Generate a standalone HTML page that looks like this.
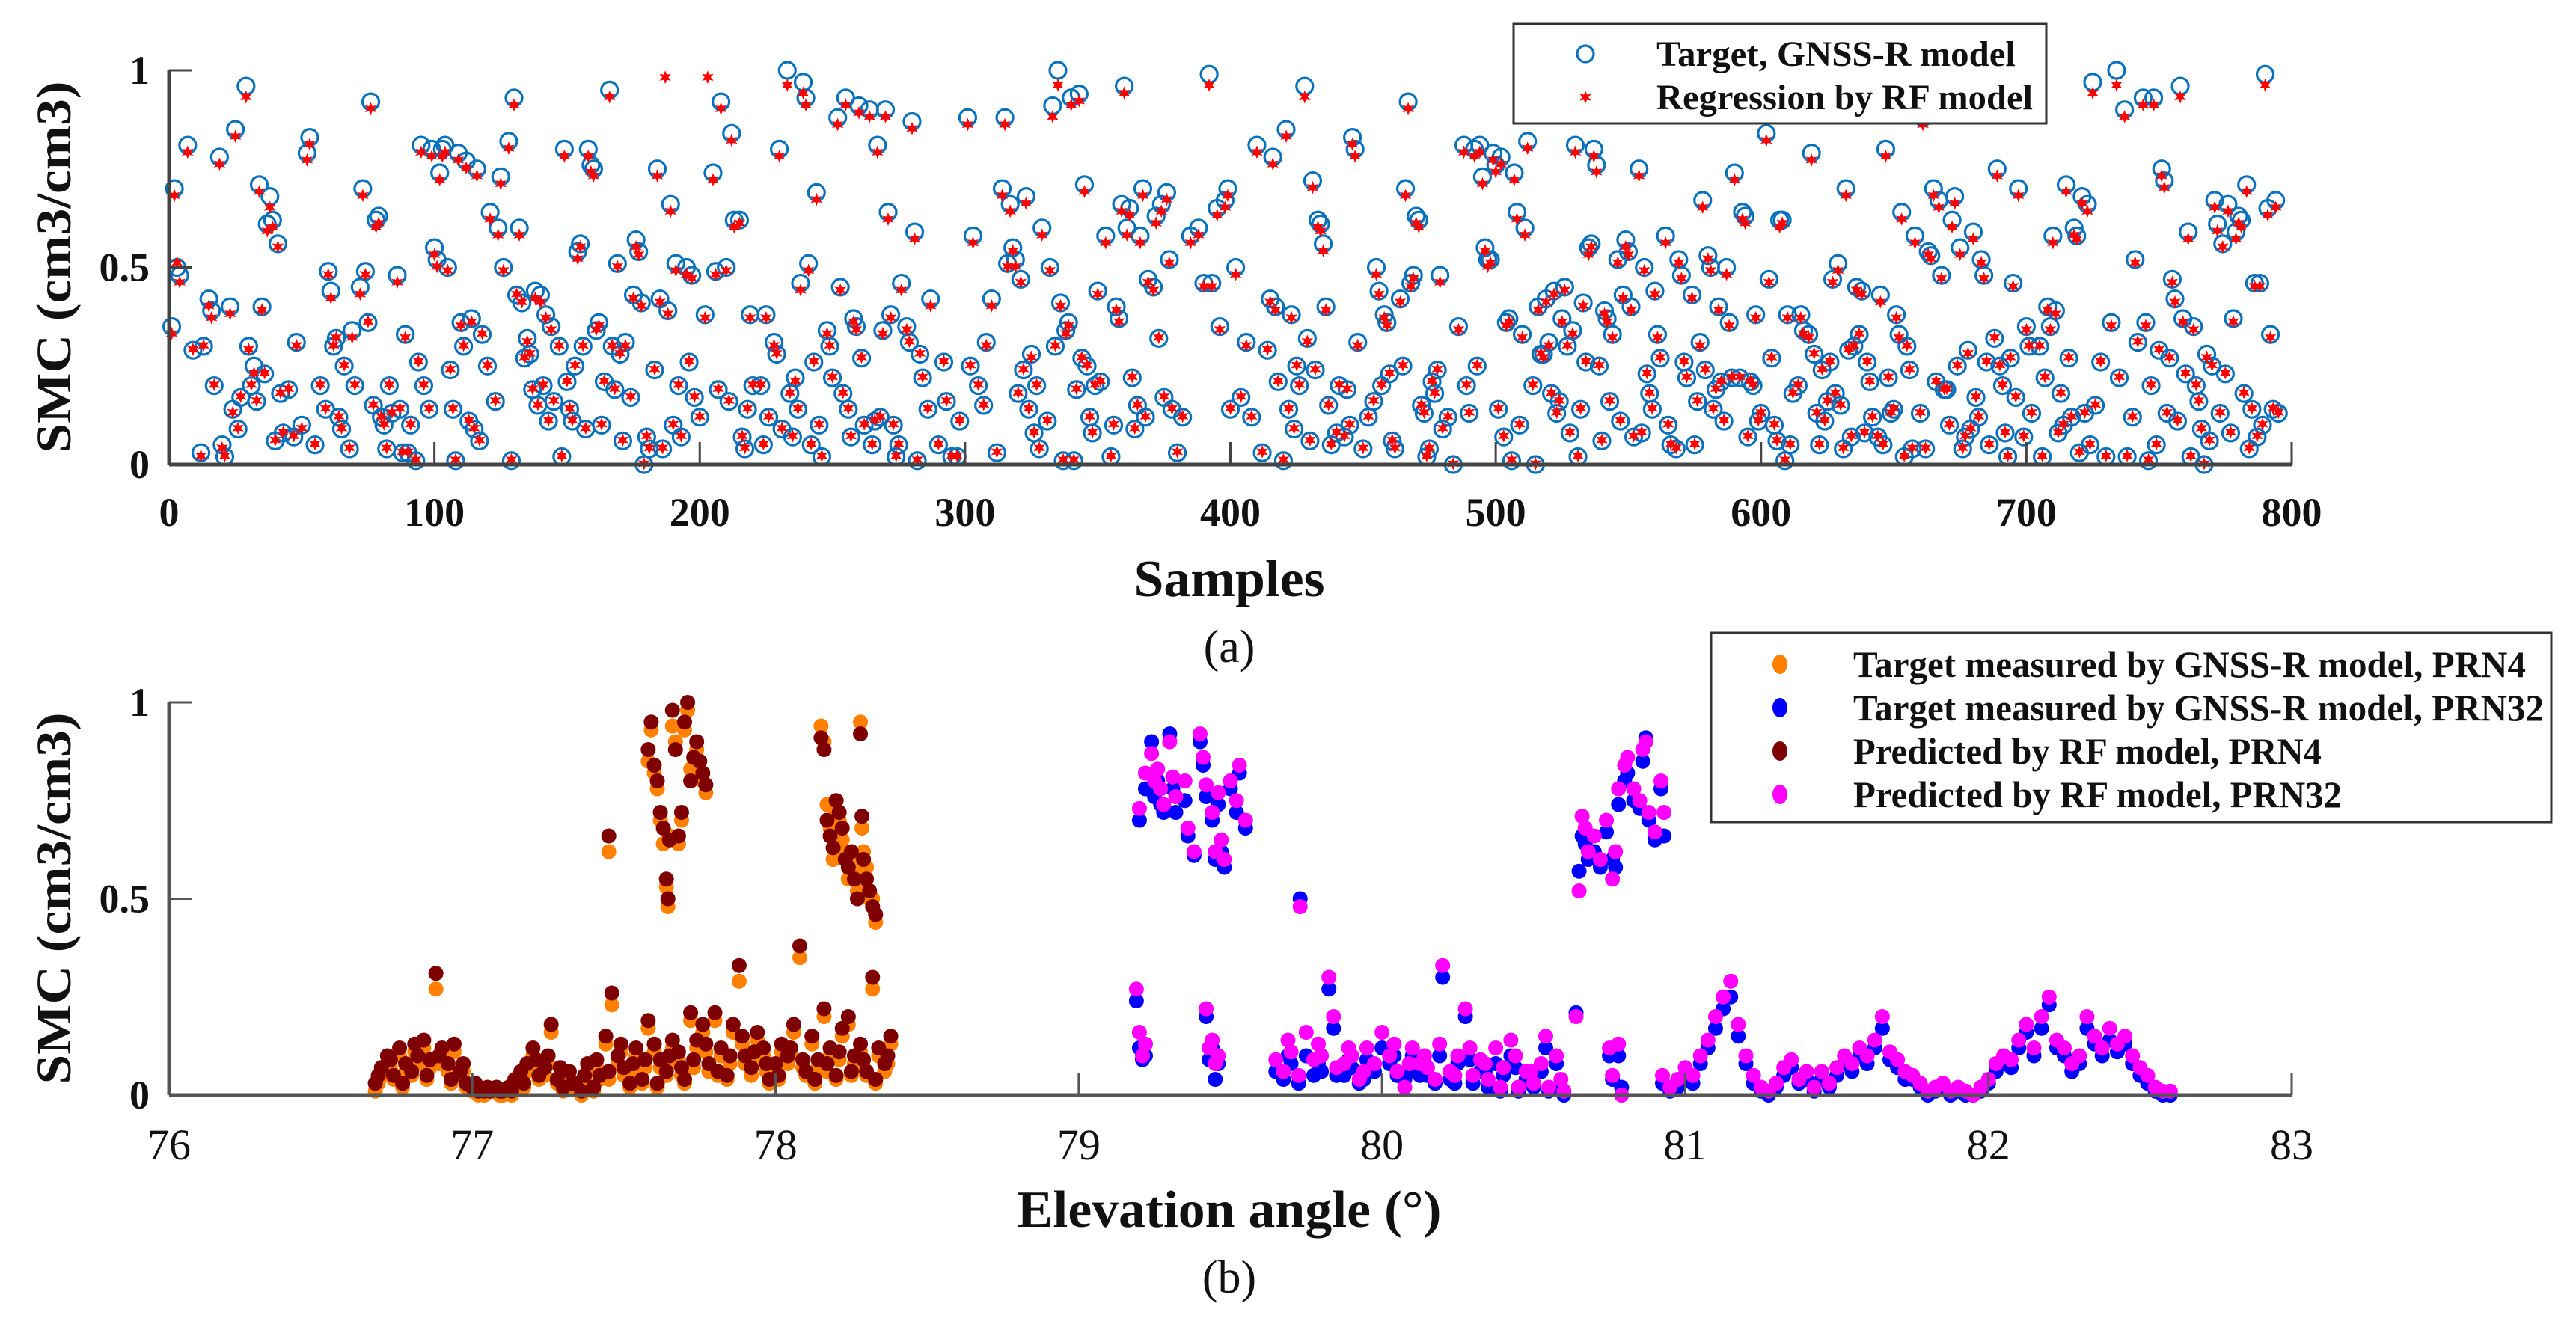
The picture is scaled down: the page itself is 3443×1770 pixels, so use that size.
<!DOCTYPE html>
<html><head><meta charset="utf-8"><title>SMC regression charts</title>
<style>html,body{margin:0;padding:0;background:#fff;}svg{display:block;}</style></head>
<body>
<svg id="fig" xmlns="http://www.w3.org/2000/svg" width="3443" height="1770" viewBox="0 0 3443 1770" font-family="'Liberation Serif', serif">
<rect x="0" y="0" width="3443" height="1770" fill="#fff"/>
<g id="plotA"></g>
<g id="plotB"></g>
</svg>
<script>
// ---------- Chart (a) data ----------
const topSamples = [1,2,3,4,7,9,12,13,15,16,17,19,20,21,23,24,25,26,27,29,30,31,32,33,34,35,36,37,38,39,40,41,42,43,45,47,48,50,52,53,55,57,59,60,61,62,63,64,65,66,68,69,70,72,73,74,75,76,77,78,79,80,81,82,83,84,86,87,88,89,90,91,93,94,95,96,98,99,100,101,102,103,104,105,106,107,108,109,110,111,112,113,114,115,116,117,118,120,121,123,124,125,126,128,129,130,131,132,133,134,135,136,137,138,139,140,141,142,143,144,145,147,148,149,150,151,152,153,154,155,156,157,158,159,160,161,162,163,164,166,167,168,169,170,171,172,174,175,176,177,178,179,180,181,183,184,185,186,187,188,189,190,191,192,193,195,196,197,198,200,202,203,205,206,207,208,210,211,212,213,215,216,217,218,219,220,223,224,225,226,228,229,230,231,233,234,235,236,237,238,239,240,241,242,243,244,245,246,248,249,250,252,253,254,255,256,257,258,259,260,261,262,264,265,266,267,268,269,270,271,272,273,274,275,276,278,279,280,281,282,283,284,286,287,290,292,293,295,297,298,301,302,303,305,307,308,310,312,314,315,316,317,318,319,320,321,322,323,324,325,326,327,328,329,331,332,333,334,335,336,337,338,339,340,341,342,343,344,345,346,347,348,349,350,351,353,355,356,357,358,359,360,361,362,363,364,365,366,367,368,369,371,372,373,374,375,376,377,378,380,382,385,388,390,392,393,395,396,398,399,400,402,404,406,408,410,412,414,415,416,417,418,420,421,422,423,424,425,426,428,429,430,431,432,433,434,435,436,437,438,440,441,443,444,445,446,447,448,450,452,454,455,456,457,458,459,460,461,462,464,465,466,467,468,469,470,471,472,473,474,475,476,477,478,479,480,482,484,486,488,489,490,492,493,494,495,496,497,498,499,500,501,502,503,504,505,506,507,508,509,510,511,512,514,515,516,517,518,519,520,521,522,523,524,525,526,527,528,529,530,531,532,533,534,535,536,537,538,539,540,541,542,543,544,546,547,548,549,550,551,552,554,555,556,557,558,559,560,561,562,564,565,566,568,569,570,571,572,574,575,576,577,578,579,580,581,582,583,584,585,586,587,588,589,590,592,593,594,595,596,597,598,599,600,602,603,604,605,606,607,608,609,610,611,612,614,615,616,618,619,620,621,622,623,624,625,626,627,628,629,630,631,632,633,634,635,636,637,638,639,640,641,642,644,645,646,647,648,649,650,651,652,653,654,655,656,657,658,660,661,662,663,664,665,666,667,668,669,670,671,672,673,674,675,676,677,678,679,680,681,682,683,684,685,686,687,688,689,690,691,692,693,694,695,696,697,698,699,700,701,702,703,704,705,706,707,708,709,710,711,712,713,714,715,716,717,718,719,720,721,722,723,724,725,726,728,730,732,734,735,737,738,740,741,742,744,745,746,747,748,749,750,751,752,753,754,755,756,757,758,759,760,761,762,763,764,765,766,767,768,769,770,771,772,773,774,775,776,777,778,779,780,781,782,783,784,785,786,787,788,789,790,791,792,793,794,795];
const topTarget = [.35,.70,.50,.48,.81,.29,.03,.30,.42,.39,.20,.78,.05,.02,.40,.14,.85,.09,.17,.96,.30,.20,.25,.16,.71,.40,.23,.61,.68,.62,.06,.56,.18,.08,.19,.07,.31,.10,.79,.83,.05,.20,.14,.49,.44,.30,.32,.12,.09,.25,.04,.34,.20,.45,.70,.49,.36,.92,.15,.62,.63,.12,.10,.04,.20,.13,.48,.14,.03,.33,.03,.10,.01,.26,.81,.20,.14,.80,.55,.52,.74,.80,.81,.50,.24,.14,.01,.79,.36,.30,.77,.11,.37,.09,.75,.06,.33,.25,.64,.16,.60,.73,.50,.82,.01,.93,.43,.60,.41,.27,.32,.28,.19,.44,.15,.43,.20,.38,.11,.35,.16,.30,.02,.80,.21,.14,.11,.25,.54,.56,.30,.09,.80,.76,.75,.34,.36,.10,.21,.95,.30,.19,.51,.28,.06,.31,.17,.43,.57,.54,.41,.00,.07,.04,.24,.75,.42,.04,null,.39,.66,.10,.51,.20,.07,.50,.26,.48,.17,.12,.38,null,.74,.49,.19,.92,.50,.16,.84,.62,.62,.07,.04,.14,.38,.20,.20,.05,.38,.12,.31,.28,.80,.09,1.0,.18,.07,.22,.14,.46,.97,.93,.51,.05,.26,.69,.10,.02,.34,.30,.22,.88,.45,.18,.93,.14,.07,.37,.35,.91,.27,.10,.90,.05,.11,.81,.12,.34,.90,.64,.38,.10,.02,.05,.46,.35,.31,.87,.59,.01,.28,.22,.14,.42,.05,.26,.16,.02,.02,.11,.88,.25,.58,.20,.15,.31,.42,.03,.70,.88,.51,.66,.55,.52,.18,.47,.24,.68,.14,.28,.08,.20,.04,.60,.11,.50,.91,.30,1.0,.41,.01,.34,.36,.93,.01,.19,.94,.27,.71,.25,.12,.08,.20,.44,.21,.58,.02,.10,.40,.37,.66,.96,.60,.65,.22,.09,.15,.58,.70,.12,.47,.45,.63,.32,.66,.17,.69,.52,.14,.03,.12,.58,.60,.46,.99,.46,.65,.35,.67,.70,.14,.50,.17,.31,.12,.81,.03,.29,.42,.78,.40,.21,.01,.85,.14,.38,.09,.25,.20,.96,.32,.06,.72,.24,.62,.61,.56,.40,.15,.05,.08,.20,.07,.19,.10,.83,.80,.31,.04,.12,.16,.50,.44,.20,.38,.36,.23,.06,.04,.42,.25,.70,.92,.46,.48,.63,.62,.15,.13,.02,.04,.21,.18,.24,.48,.09,.12,.00,.35,.81,.20,.13,.80,.25,.81,.73,.55,.52,.52,.79,.76,.14,.78,.07,.36,.37,.01,.74,.64,.10,.33,.60,.82,.20,.00,.40,.28,.28,.42,.31,.18,.44,.13,.16,.37,.45,.30,.08,.34,.81,.02,.14,.41,.26,.55,.56,.80,.76,.25,.06,.39,.37,.16,.33,.52,.11,.43,.57,.54,.40,.07,.75,.08,.50,.23,.18,.14,.44,.33,.27,.58,.10,.05,.04,.52,.48,.26,.22,.43,.05,.16,.31,.67,.24,.53,.50,.14,.19,.40,.21,.11,.50,.36,.22,.74,.22,.64,.63,.07,.21,.20,.38,.11,.13,.84,.47,.27,.10,.06,.62,.62,.01,.38,.05,.18,.20,.38,.34,.33,.79,.28,.13,.05,.24,.11,.16,.26,.47,.18,.51,.15,.04,.70,.29,.07,.30,.45,.33,.44,.08,.26,.21,.12,.07,.43,.05,.80,.22,.13,.14,.38,.33,.64,.02,.30,.24,.04,.58,.13,.88,.04,.54,.53,.70,.21,.67,.48,.19,.19,.10,.62,.68,.25,.55,.04,.07,.29,.09,.59,.17,.12,.52,.48,.26,.05,.94,.32,.75,.25,.20,.08,.02,.27,.46,.17,.70,.90,.07,.35,.30,.13,.93,.94,.30,.02,.22,.40,.35,.58,.39,.08,.18,.10,.71,.27,.12,.60,.58,.03,.68,.13,.66,.05,.97,.15,.26,.02,.36,1.0,.22,.90,.02,.12,.52,.31,.93,.36,.01,.20,.93,.05,.29,.75,.72,.13,.27,.47,.42,.11,.96,.37,.23,.59,.02,.35,.20,.16,.09,.00,.28,.06,.25,.67,.61,.13,.56,.23,.66,.08,.37,.59,.63,.62,.18,.71,.04,.14,.46,.07,.46,.10,.99,.65,.33,.14,.67,.13];
const topPred = [.34,.69,.52,.47,.80,.30,.03,.31,.41,.38,.21,.77,.05,.03,.39,.14,.84,.10,.18,.94,.30,.21,.24,.17,.70,.40,.24,.60,.66,.61,.07,.56,.19,.09,.20,.08,.31,.10,.78,.82,.06,.21,.15,.49,.43,.31,.33,.13,.10,.26,.05,.33,.21,.44,.69,.49,.37,.91,.16,.61,.62,.13,.11,.05,.21,.14,.47,.15,.04,.33,.04,.11,.02,.27,.80,.21,.15,.79,.54,.51,.73,.79,.80,.50,.25,.15,.02,.78,.36,.31,.76,.12,.37,.10,.74,.07,.34,.26,.63,.17,.59,.72,.50,.81,.02,.92,.44,.59,.42,.28,.32,.29,.20,.43,.16,.42,.21,.38,.12,.35,.17,.31,.03,.79,.22,.15,.12,.26,.53,.56,.31,.10,.79,.75,.74,.35,.36,.11,.22,.94,.31,.20,.51,.29,.07,.31,.18,.43,.56,.54,.41,.01,.08,.05,.25,.74,.42,.05,.99,.39,.65,.11,.50,.21,.08,.49,.27,.48,.18,.13,.38,.99,.73,.49,.20,.91,.50,.17,.83,.61,.62,.08,.05,.15,.38,.21,.21,.06,.38,.13,.31,.29,.79,.10,.97,.19,.08,.22,.15,.45,.95,.92,.50,.06,.27,.68,.11,.03,.34,.31,.23,.87,.45,.19,.92,.15,.08,.37,.35,.90,.28,.11,.89,.06,.12,.80,.13,.34,.89,.63,.38,.11,.03,.06,.45,.35,.32,.86,.58,.02,.29,.23,.15,.41,.06,.27,.17,.03,.03,.12,.87,.26,.57,.21,.16,.31,.41,.04,.69,.87,.51,.65,.55,.51,.19,.47,.25,.67,.15,.28,.09,.21,.05,.59,.12,.50,.89,.31,.97,.41,.02,.34,.36,.92,.02,.20,.93,.28,.70,.26,.13,.09,.21,.44,.22,.57,.03,.11,.40,.37,.65,.95,.59,.64,.23,.10,.16,.57,.69,.13,.47,.45,.62,.33,.65,.18,.68,.52,.15,.04,.13,.57,.59,.46,.97,.46,.64,.35,.66,.69,.15,.49,.18,.31,.13,.80,.04,.30,.42,.77,.40,.22,.02,.84,.15,.38,.10,.26,.21,.94,.32,.07,.71,.25,.61,.60,.55,.40,.16,.06,.09,.21,.08,.20,.11,.82,.79,.31,.05,.13,.17,.49,.44,.21,.38,.36,.24,.07,.05,.42,.26,.69,.91,.46,.48,.62,.61,.16,.14,.03,.05,.22,.19,.25,.47,.10,.13,.01,.35,.80,.21,.14,.79,.26,.80,.72,.55,.51,.52,.78,.75,.15,.77,.08,.36,.37,.02,.73,.63,.11,.33,.59,.81,.21,.01,.40,.29,.28,.42,.31,.19,.44,.14,.17,.37,.45,.31,.09,.34,.80,.03,.15,.41,.27,.54,.56,.79,.75,.26,.07,.39,.37,.17,.33,.52,.12,.43,.56,.54,.40,.08,.74,.09,.50,.24,.19,.15,.44,.33,.28,.57,.11,.06,.05,.52,.48,.27,.23,.43,.06,.17,.31,.66,.25,.53,.50,.15,.20,.40,.22,.12,.49,.36,.23,.73,.23,.63,.62,.08,.22,.21,.38,.12,.14,.83,.47,.28,.11,.07,.61,.62,.02,.38,.06,.19,.21,.38,.34,.33,.78,.29,.14,.06,.25,.12,.17,.27,.47,.19,.50,.16,.05,.69,.30,.08,.31,.45,.34,.44,.09,.27,.22,.13,.08,.42,.06,.79,.23,.14,.15,.38,.33,.63,.03,.31,.25,.05,.57,.14,.87,.05,.54,.53,.69,.22,.66,.48,.20,.20,.11,.61,.67,.26,.54,.05,.08,.29,.10,.58,.18,.13,.52,.48,.27,.06,.92,.33,.74,.26,.21,.09,.03,.28,.46,.18,.69,.89,.08,.35,.31,.14,.92,.93,.31,.03,.23,.40,.35,.57,.39,.09,.19,.11,.70,.28,.13,.59,.58,.04,.67,.14,.65,.06,.95,.16,.27,.03,.36,.97,.23,.89,.03,.13,.52,.32,.92,.36,.02,.21,.92,.06,.30,.74,.71,.14,.28,.47,.42,.12,.94,.37,.24,.58,.03,.35,.21,.17,.10,.01,.28,.07,.26,.66,.60,.14,.56,.24,.65,.09,.37,.58,.62,.61,.19,.70,.05,.15,.46,.08,.46,.11,.97,.64,.33,.15,.66,.14];
const topXTicks = [0,100,200,300,400,500,600,700,800];
const topYTicks = [0,0.5,1];

// ---------- Chart (b) data ----------
const elev4 = [76.68,76.70,76.72,76.74,76.76,76.78,76.80,76.82,76.84,76.86,76.88,76.90,76.92,76.94,76.96,76.98,77.00,77.02,77.04,77.06,77.08,77.10,77.12,77.14,77.16,77.18,77.20,77.22,77.24,77.26,77.28,77.30,77.32,77.34,77.36,77.38,77.40,77.42,77.44,77.46,77.48,77.50,77.52,77.54,77.56,77.58,77.60,77.62,77.64,77.66,77.68,77.70,77.72,77.74,77.76,77.78,77.80,77.82,77.84,77.86,77.88,77.90,77.92,77.94,77.96,77.98,78.00,78.02,78.04,78.06,78.08,78.10,78.12,78.14,78.16,78.18,78.20,78.22,78.24,78.26,78.28,78.30,78.32,78.34,78.36,78.38,
76.69,76.73,76.77,76.81,76.85,76.89,76.93,76.97,77.01,77.05,77.09,77.13,77.17,77.21,77.25,77.29,77.33,77.37,77.41,77.45,77.49,77.53,77.57,77.61,77.65,77.69,77.73,77.77,77.81,77.85,77.89,77.93,77.97,78.01,78.05,78.09,78.13,78.17,78.21,78.25,78.29,78.33,78.37,
77.45,77.58,77.59,77.60,77.61,77.62,77.63,77.64,77.645,77.65,77.66,77.67,77.68,77.69,77.70,77.71,77.72,77.73,77.74,77.75,77.76,77.77,78.15,78.16,78.17,78.18,78.19,78.20,78.21,78.22,78.23,78.24,78.25,78.26,78.27,78.28,78.285,78.29,78.30,78.31,78.32,78.33];
const pred4 = [.03,.07,.10,.05,.12,.08,.06,.10,.14,.09,.31,.12,.08,.13,.06,.03,.02,.01,.01,.01,.02,.01,.02,.04,.06,.08,.12,.05,.07,.18,.04,.02,.06,.03,.01,.08,.02,.05,.15,.26,.10,.07,.03,.12,.04,.19,.13,.09,.06,.14,.11,.04,.21,.14,.18,.08,.21,.12,.05,.18,.33,.10,.07,.16,.12,.04,.08,.13,.10,.18,.38,.06,.15,.09,.22,.12,.05,.17,.20,.10,.13,.06,.30,.12,.08,.15,
.05,.09,.03,.13,.05,.10,.04,.08,.03,.02,.01,.01,.03,.09,.10,.07,.03,.05,.09,.06,.13,.08,.09,.03,.10,.07,.09,.13,.06,.10,.15,.11,.08,.05,.12,.09,.04,.08,.11,.06,.09,.04,.10,
.66,.88,.95,.84,.80,.72,.68,.55,.50,.65,.98,.88,.66,.72,.95,1.0,.80,.86,.90,.85,.82,.79,.91,.88,.70,.66,.63,.75,.72,.68,.60,.58,.62,.55,.50,.92,.71,.60,.55,.52,.48,.46];
const tgt4 = [.01,.05,.08,.04,.10,.06,.05,.08,.12,.07,.27,.10,.06,.11,.05,.02,.01,.00,.00,.01,.01,.00,.01,.03,.05,.06,.10,.04,.05,.16,.03,.01,.04,.02,.00,.06,.01,.04,.13,.23,.08,.05,.02,.10,.03,.17,.11,.07,.05,.12,.09,.03,.19,.12,.16,.06,.19,.10,.04,.16,.29,.08,.05,.14,.10,.03,.06,.11,.08,.16,.35,.05,.13,.07,.20,.10,.04,.15,.18,.08,.11,.05,.27,.10,.06,.13,
.03,.07,.02,.11,.04,.08,.03,.06,.02,.01,.00,.00,.02,.07,.08,.05,.02,.04,.07,.04,.11,.06,.07,.02,.08,.05,.07,.11,.05,.08,.13,.09,.06,.04,.10,.07,.03,.06,.09,.05,.07,.03,.08,
.62,.85,.93,.82,.78,.70,.64,.53,.48,.66,.94,.90,.64,.70,.93,.98,.83,.84,.88,.82,.80,.77,.94,.90,.74,.68,.60,.72,.70,.65,.62,.55,.60,.57,.52,.95,.68,.62,.58,.50,.50,.44];
const elev32 = [79.20,79.22,79.24,79.25,79.26,79.27,79.28,79.30,79.31,79.32,79.35,79.36,79.38,79.40,79.41,79.42,79.44,79.45,79.46,79.47,79.48,79.50,79.52,79.53,79.55,
80.65,80.66,80.67,80.68,80.70,80.72,80.74,80.76,80.77,80.78,80.80,80.81,80.83,80.85,80.86,80.87,80.88,80.90,80.92,80.93,
79.73,
79.19,79.20,79.21,79.22,79.42,79.43,79.44,79.45,79.46,
79.65,79.675,79.70,79.725,79.75,79.775,79.80,79.825,79.85,79.875,79.90,79.925,79.95,79.975,80.0,80.025,80.05,80.075,80.10,80.125,80.15,80.175,80.20,80.225,80.25,80.275,80.30,80.325,80.35,80.375,80.40,80.425,80.45,80.475,80.50,80.525,80.55,80.575,80.60,
79.69,79.79,79.84,79.89,79.94,80.04,80.09,80.14,80.19,80.24,80.29,80.34,80.39,80.44,80.49,80.54,80.59,80.64,
80.75,80.76,80.78,80.79,
80.925,80.95,80.975,81.0,81.025,81.05,81.075,81.10,81.125,81.15,81.175,81.20,81.225,81.25,81.275,81.30,81.325,81.35,81.375,81.40,81.425,81.45,81.475,81.50,81.525,81.55,81.575,81.60,81.625,81.65,81.675,81.70,81.725,81.75,81.775,81.80,81.825,81.85,81.875,81.90,81.925,81.95,81.975,82.0,82.025,82.05,82.075,82.10,82.125,82.15,82.175,82.20,82.225,82.25,82.275,82.30,82.325,82.35,82.375,82.40,82.425,82.45,82.475,82.50,82.525,82.55,82.575,82.60];
const pred32 = [.73,.82,.87,.80,.83,.78,.74,.90,.81,.76,.80,.68,.62,.92,.86,.79,.72,.62,.77,.65,.60,.80,.75,.84,.70,
.52,.71,.68,.62,.66,.60,.70,.55,.62,.78,.84,.86,.78,.75,.88,.90,.72,.67,.80,.72,
.48,
.27,.16,.10,.13,.22,.12,.14,.08,.10,
.09,.06,.11,.05,.16,.09,.10,.30,.07,.08,.10,.04,.12,.08,.16,.10,.06,.02,.12,.08,.07,.04,.33,.06,.10,.22,.05,.09,.04,.12,.07,.14,.02,.06,.03,.08,.02,.10,.01,
.14,.13,.20,.12,.06,.13,.08,.10,.13,.05,.12,.08,.02,.10,.06,.15,.04,.20,
.12,.05,.13,.00,
.05,.02,.04,.07,.05,.10,.14,.20,.25,.29,.18,.10,.05,.02,.01,.03,.07,.09,.04,.06,.02,.06,.03,.07,.10,.08,.12,.10,.14,.20,.11,.09,.06,.05,.03,.01,.02,.03,.01,.02,.01,.00,.02,.04,.08,.10,.09,.14,.18,.12,.20,.25,.14,.12,.08,.10,.20,.15,.12,.17,.13,.15,.10,.07,.05,.02,.01,.01];
const tgt32 = [.70,.78,.90,.76,.80,.74,.72,.92,.78,.72,.75,.66,.61,.90,.84,.76,.70,.60,.74,.62,.58,.78,.72,.82,.68,
.57,.66,.64,.60,.62,.58,.67,.60,.58,.74,.80,.82,.75,.73,.85,.91,.70,.65,.78,.66,
.50,
.24,.12,.09,.10,.20,.09,.12,.04,.08,
.06,.04,.08,.03,.10,.05,.06,.27,.05,.05,.07,.03,.09,.06,.12,.08,.05,.04,.10,.05,.05,.03,.30,.04,.08,.20,.03,.06,.02,.08,.05,.10,.01,.04,.02,.06,.01,.08,.00,
.10,.08,.17,.09,.04,.10,.06,.08,.10,.03,.09,.06,.01,.07,.04,.12,.02,.21,
.10,.04,.10,.02,
.03,.01,.02,.05,.03,.08,.12,.17,.22,.25,.15,.08,.03,.01,.00,.02,.05,.07,.03,.04,.01,.04,.02,.05,.08,.06,.10,.08,.12,.17,.09,.07,.04,.04,.02,.00,.01,.02,.00,.01,.00,.00,.01,.03,.06,.08,.07,.12,.16,.10,.17,.23,.12,.10,.06,.08,.17,.13,.10,.14,.11,.13,.08,.05,.03,.01,.00,.00];
const bXTicks = [76,77,78,79,80,81,82,83];
const bYTicks = [0,0.5,1];

// ---------- helpers ----------
const NS = 'http://www.w3.org/2000/svg';
function mk(tag, parent, attrs){ const e=document.createElementNS(NS,tag); for(const k in attrs) e.setAttribute(k,attrs[k]); parent.appendChild(e); return e; }
function txt(parent, x, y, s, size, weight, anchor, len){ const e=mk('text',parent,{x:x,y:y,'font-size':size,'font-weight':weight,'text-anchor':anchor,fill:'#111'}); if(len){e.setAttribute('textLength',len);e.setAttribute('lengthAdjust','spacingAndGlyphs');} e.textContent=s; return e; }
function starPath(cx, cy, r){ let d=''; for(let i=0;i<12;i++){ const a=Math.PI/6*i - Math.PI/2; const rr = i%2===0 ? r : r*0.45; d += (i?'L':'M') + (cx+rr*Math.cos(a)).toFixed(1) + ' ' + (cy+rr*Math.sin(a)).toFixed(1); } return d+'Z'; }

// ---------- Chart (a) ----------
const A = document.getElementById('plotA');
const aX0=226, aX1=3063, aY0=621, aY1=94;
const xA = s => aX0 + s*(aX1-aX0)/800;
const yA = v => aY0 - v*(aY0-aY1);

const gTgt = mk('g',A,{});


const gPred = mk('g',A,{});


for(let i=0;i<topSamples.length;i++){
  if(topTarget[i]!==null){
    const c = mk('circle',gTgt,{cx:xA(topSamples[i]),cy:yA(topTarget[i]),r:11,fill:'none',stroke:'#0a72bd','stroke-width':3.2});
    
    
  }
}
for(let i=0;i<topSamples.length;i++){
  const p = mk('path',gPred,{d:starPath(xA(topSamples[i]),yA(topPred[i])+4,9),fill:'#ff0000'});
  
  
}
// axes
const axA = mk('g',A,{});


mk('line',axA,{x1:aX0,y1:aY1,x2:aX0,y2:aY0,stroke:'#444','stroke-width':5});
mk('line',axA,{x1:aX0,y1:aY0,x2:aX1,y2:aY0,stroke:'#444','stroke-width':5});
topXTicks.forEach(t=>{
  mk('line',axA,{x1:xA(t),y1:aY0,x2:xA(t),y2:aY0-30,stroke:'#444','stroke-width':3});
  const l=txt(axA,xA(t),703,String(t),54,'bold','middle');
  
  
});
topYTicks.forEach(t=>{
  mk('line',axA,{x1:aX0,y1:yA(t),x2:aX0+30,y2:yA(t),stroke:'#444','stroke-width':3});
  const l=txt(axA,200,yA(t)+18,String(t),54,'bold','end');
  
  
});
const yTA = txt(A,0,0,'SMC (cm3/cm3)',66,'bold','middle',497);
yTA.setAttribute('transform','translate(94,357) rotate(-90)');


const xTA = txt(A,1643,797,'Samples',70,'bold','middle',255);


const capA = txt(A,1643,885,'(a)',62,'normal','middle');


// legend a
const legA = mk('g',A,{});


mk('rect',legA,{x:2023,y:32,width:712,height:133,fill:'#fff',stroke:'#333','stroke-width':3});
const lc = mk('circle',legA,{cx:2119,cy:72,r:11,fill:'none',stroke:'#0a72bd','stroke-width':3.2});


const ls = mk('path',legA,{d:starPath(2119,130,9),fill:'#ff0000'});


const lt1=txt(legA,2214,88,'Target, GNSS-R model',48,'bold','start',480);


const lt2=txt(legA,2214,146,'Regression by RF model',48,'bold','start',503);



// ---------- Chart (b) ----------
const B = document.getElementById('plotB');
const bX0=226, bX1=3063, bY0=1464, bY1=939;
const xB = e => bX0 + (e-76)*(bX1-bX0)/7;
const yB = v => bY0 - v*(bY0-bY1);
function series(parent, xs, ys, color, name){
  const g = mk('g',parent,{fill:color});
  
  
  for(let i=0;i<xs.length;i++){
    const c = mk('circle',g,{cx:xB(xs[i]),cy:yB(ys[i]),r:10});
    
    
  }
}
series(B, elev4, tgt4, '#ff8000', 'target-prn4-series');
series(B, elev32, tgt32, '#0000ff', 'target-prn32-series');
series(B, elev4, pred4, '#7f0000', 'predicted-prn4-series');
series(B, elev32, pred32, '#ff00ff', 'predicted-prn32-series');
const axB = mk('g',B,{});


mk('line',axB,{x1:bX0,y1:bY1,x2:bX0,y2:bY0,stroke:'#555','stroke-width':5});
mk('line',axB,{x1:bX0,y1:bY0,x2:bX1,y2:bY0,stroke:'#555','stroke-width':5});
bXTicks.forEach(t=>{
  mk('line',axB,{x1:xB(t),y1:bY0,x2:xB(t),y2:bY0-30,stroke:'#555','stroke-width':3});
  const l=txt(axB,xB(t),1550,String(t),58,'normal','middle');
  
  
});
bYTicks.forEach(t=>{
  mk('line',axB,{x1:bX0,y1:yB(t),x2:bX0+30,y2:yB(t),stroke:'#555','stroke-width':3});
  const l=txt(axB,200,yB(t)+18,String(t),54,'bold','end');
  
  
});
const yTB = txt(B,0,0,'SMC (cm3/cm3)',66,'bold','middle',497);
yTB.setAttribute('transform','translate(94,1201) rotate(-90)');


const xTB = txt(B,1643,1640,'Elevation angle (°)',70,'bold','middle',567);


const capB = txt(B,1643,1728,'(b)',62,'normal','middle');


// legend b
const legB = mk('g',B,{});


mk('rect',legB,{x:2287,y:846,width:1123,height:253,fill:'#fff',stroke:'#333','stroke-width':3});
const legColors = ['#ff8000','#0000ff','#7f0000','#ff00ff'];
const legLabels = ['Target measured by GNSS-R model, PRN4','Target measured by GNSS-R model, PRN32','Predicted by RF model, PRN4','Predicted by RF model, PRN32'];
const legLens = [899,923,626,653];
const legNames = ['legend-entry-target-prn4','legend-entry-target-prn32','legend-entry-predicted-prn4','legend-entry-predicted-prn32'];
for(let i=0;i<4;i++){
  const cy = 888 + i*58;
  const m = mk('ellipse',legB,{cx:2379,cy:cy,rx:10,ry:13,fill:legColors[i]});
  
  
  const t = txt(legB,2477,cy+17,legLabels[i],50,'bold','start',legLens[i]);
  
  
}
</script>
</body></html>
